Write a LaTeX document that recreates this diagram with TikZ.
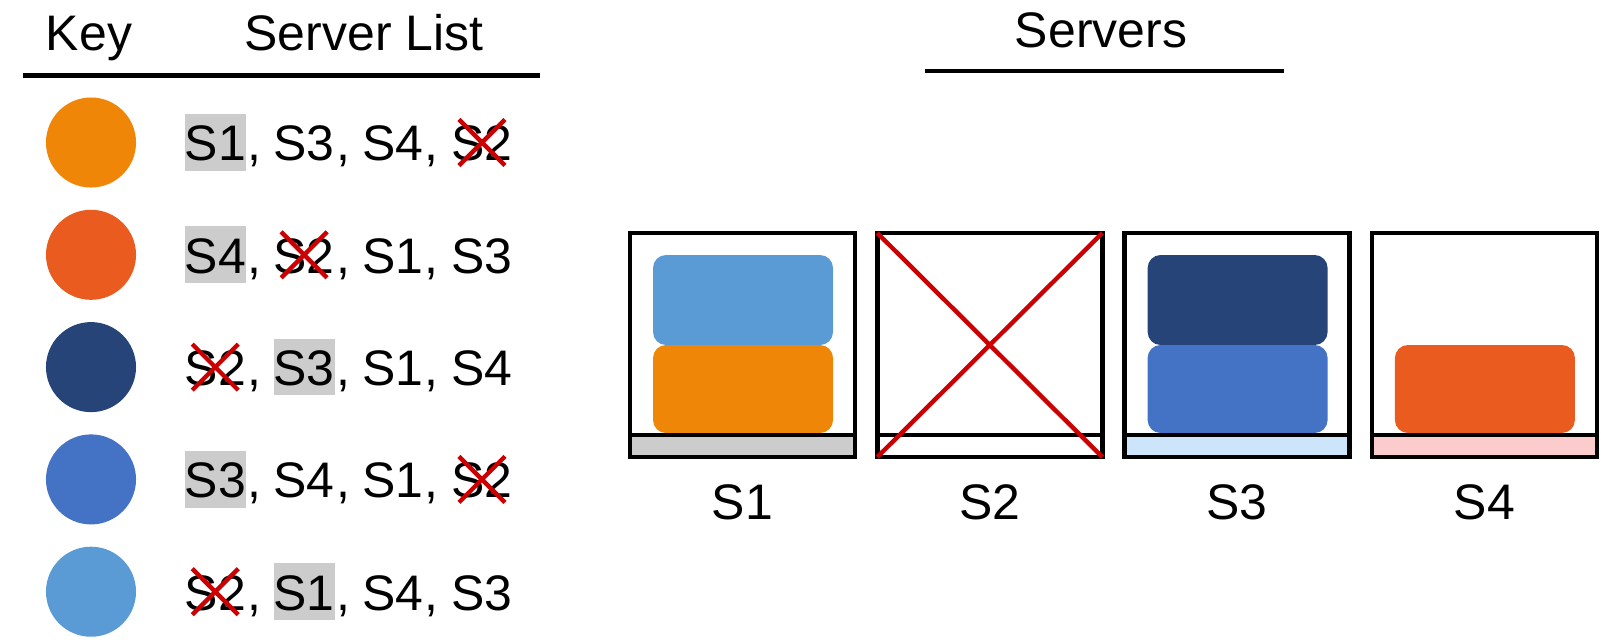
\documentclass[tikz,border=0pt]{standalone}
\usepackage{fontspec}
\setmainfont{Liberation Sans}
\usepackage{tikz}
\usetikzlibrary{calc}

\definecolor{keyorange}{RGB}{240,134,8}
\definecolor{keyred}{RGB}{233,91,30}
\definecolor{keynavy}{RGB}{38,68,120}
\definecolor{keyblue}{RGB}{68,114,196}
\definecolor{keysky}{RGB}{91,155,213}
\definecolor{xred}{RGB}{204,0,0}
\definecolor{hlgray}{RGB}{204,204,204}
\definecolor{barblue}{RGB}{204,229,250}
\definecolor{barpink}{RGB}{252,204,204}

\tikzset{
	txt/.style={font=\fontsize{14.2}{17}\selectfont, inner sep=0pt},
	tok/.style={txt, text height=0.467cm, text depth=0.1cm, anchor=west},
	tokh/.style={fill=hlgray},
	tokn/.style={},
	tokx/.style={},
	crossout/.style={xred, line width=1.25pt},
	frame/.style={line width=1.3pt},
	job/.style={rounded corners=0.13cm}
}

\begin{document}
\begin{tikzpicture}[x=0.01cm, y=-0.01cm]
	
	\useasboundingbox (0,0) rectangle (1601,639);
	
	% headers
	\node[txt, anchor=base] (key) at (89,50.5) {Key};
	\node[txt, anchor=base] (list) at (364,50.5) {Server List};
	\node[txt, anchor=base] (servers) at (1101,47) {Servers};
	
	\coordinate (ruleA) at (23,75.5);
	\coordinate (ruleB) at (540,75.5);
	\coordinate (ruleC) at (925,71);
	\coordinate (ruleD) at (1284,71);
	\draw[frame] (ruleA) -- (ruleB);
	\draw[frame] (ruleC) -- (ruleD);
	
	% key dots
	\foreach \c [count=\i] in {keyorange,keyred,keynavy,keyblue,keysky}
		\node[circle, fill=\c, inner sep=0pt, minimum size=0.9cm] (dot\i) at (91,{142.5+112.3*(\i-1)}) {};
	
	% server lists
	\foreach \row [count=\i] in {{S1/h,S3/n,S4/n,S2/x},{S4/h,S2/x,S1/n,S3/n},{S2/x,S3/h,S1/n,S4/n},{S3/h,S4/n,S1/n,S2/x},{S2/x,S1/h,S4/n,S3/n}}
	{
		\foreach \s/\k [count=\j] in \row
		{
			\node[tok, tok\k] (r\i-\j) at ({184+88.9*(\j-1)},{142.5+112.3*(\i-1)}) {\s};
			\ifnum\j<4
				\node[txt, anchor=base west] (c\i-\j) at (r\i-\j.base east) {,};
			\fi
		}
	}
	
	% down server crossed out
	\foreach \i/\j in {1/4,2/2,3/1,4/4,5/1}
		\draw[crossout] ($(r\i-\j.center)+(-23,-23)$) -- ($(r\i-\j.center)+(23,23)$)
			($(r\i-\j.center)+(23,-23)$) -- ($(r\i-\j.center)+(-23,23)$);
	
	% servers
	\foreach \n/\barc/\upc/\lowc in {1/hlgray/keysky/keyorange,2/white/none/none,3/barblue/keynavy/keyblue,4/barpink/none/keyred}
	{
		\coordinate (nw\n) at ({630+247.3*(\n-1)},233);
		\coordinate (se\n) at ({855+247.3*(\n-1)},457);
		\coordinate (sw\n) at ({630+247.3*(\n-1)},435);
		\coordinate (ne\n) at ({855+247.3*(\n-1)},435);
		\fill[\barc] (sw\n) rectangle (se\n);
		\path[job, fill=\upc] ($(nw\n)+(23,22)$) rectangle ($(nw\n)+(203,112)$);
		\path[job, fill=\lowc] ($(nw\n)+(23,112)$) rectangle ($(nw\n)+(203,200)$);
		\draw[frame] (nw\n) rectangle (se\n);
		\draw[frame] (sw\n) -- (ne\n);
		\node[txt, anchor=base] (lab\n) at ({742.5+247.3*(\n-1)},519) {S\n};
	}
	
	\draw[crossout] (nw2) -- (se2);
	\draw[crossout] (nw2 -| se2) -- (se2 -| nw2);
	
\end{tikzpicture}
\end{document}
